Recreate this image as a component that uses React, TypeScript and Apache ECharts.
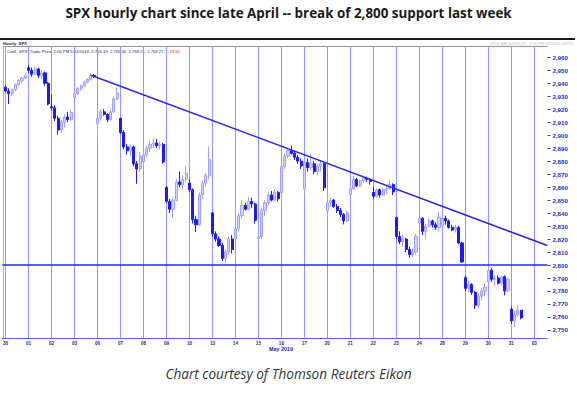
import React, { useEffect, useRef } from 'react';
import * as echarts from 'echarts';

type Bar = [number, number, number, number]; // open, high, low, close

const titleText = 'SPX hourly chart since late April -- break of 2,800 support last week';
const captionText = 'Chart courtesy of Thomson Reuters Eikon';
const headerLeft = 'Hourly .SPX';
const headerRight = '10:00 AM 4/30/2019 - 2:50 PM 6/3/2019 (NYC)';
const legendText = 'Cndl, .SPX, Trade Price, 1:00 PM 5/31/2019, 2,765.19, 2,765.30, 2,758.21, 2,759.27,';
const legendChange = '-29.55';
const monthLabel = 'May 2019';

const dayLabels = ['30', '01', '02', '03', '06', '07', '08', '09', '10', '13', '14', '15', '16', '17', '20', '21', '22', '23', '24', '28', '29', '30', '31', '03'];

const apr30: Bar[] = [[2937, 2938, 2933, 2934], [2934, 2936, 2924, 2932], [2932, 2936, 2930, 2935], [2935, 2940, 2934, 2939], [2939, 2943, 2938, 2942], [2942, 2945, 2940, 2944], [2944, 2948, 2943, 2945.8]];
const may01: Bar[] = [[2952, 2954, 2948, 2950], [2950, 2952, 2945, 2947], [2947, 2953, 2946, 2951], [2951, 2952, 2944, 2946], [2946, 2950, 2943, 2948], [2948, 2949, 2938, 2940], [2940, 2941, 2923, 2924]];
const may02: Bar[] = [[2922, 2931, 2919, 2921], [2921, 2923, 2911, 2913], [2913, 2915, 2900.5, 2904], [2904, 2912, 2902, 2910], [2910, 2916, 2906, 2914], [2914, 2918, 2910, 2912], [2912, 2920, 2911, 2917.5]];
const may03: Bar[] = [[2929, 2934, 2928, 2932], [2932, 2937, 2931, 2936], [2936, 2939, 2934, 2938], [2938, 2942, 2937, 2941], [2941, 2944, 2940, 2943], [2943, 2947.8, 2942, 2946], [2946, 2947, 2944, 2945.6]];
const may06: Bar[] = [[2909, 2914, 2898, 2913], [2913, 2920, 2911, 2918], [2918, 2920, 2915, 2916], [2916, 2917, 2910, 2912], [2912, 2920, 2911, 2918], [2918, 2930, 2917, 2928], [2928, 2937, 2927, 2932.5]];
const may07: Bar[] = [[2913, 2913.5, 2901, 2902], [2902, 2904, 2889, 2891], [2891, 2893, 2885, 2888], [2888, 2893, 2884, 2891], [2891, 2892, 2876, 2878], [2878, 2880, 2862.6, 2874], [2874, 2887, 2872, 2884]];
const may08: Bar[] = [[2879.6, 2888, 2876, 2885], [2885, 2892, 2883, 2890], [2890, 2896, 2887, 2893], [2893, 2898, 2890, 2894], [2894, 2897, 2890, 2892], [2892, 2895, 2889, 2893], [2893, 2894, 2878, 2879.4]];
const may09: Bar[] = [[2859.8, 2861, 2848, 2849], [2849, 2851, 2840, 2843], [2843, 2852, 2836.4, 2850], [2850, 2866, 2849, 2864], [2864, 2872, 2860, 2862], [2862, 2869, 2858, 2866], [2866, 2876, 2864, 2870.7]];
const may10: Bar[] = [[2863, 2866, 2856, 2858], [2858, 2859, 2832, 2835], [2835, 2838, 2825.4, 2831], [2831, 2856, 2830, 2854], [2854, 2865, 2851, 2863], [2863, 2871, 2860, 2869], [2869, 2891.3, 2866, 2881.4]];
const may13: Bar[] = [[2840.2, 2840.7, 2822, 2824], [2824, 2826, 2818, 2820], [2820, 2822, 2814, 2815], [2815, 2817, 2803, 2805], [2805, 2812, 2801.4, 2810], [2810, 2822, 2808, 2820], [2820, 2823, 2809, 2811.9]];
const may14: Bar[] = [[2820.1, 2830, 2819.5, 2828], [2828, 2840, 2826, 2838], [2838, 2850, 2836, 2846], [2846, 2848, 2842, 2843], [2843, 2852.5, 2842, 2849], [2849, 2852, 2844, 2847], [2847, 2848, 2832, 2834.4]];
const may15: Bar[] = [[2820.4, 2826, 2815, 2822], [2822, 2844, 2820, 2842], [2842, 2850, 2838, 2848], [2848, 2856, 2846, 2854], [2854, 2857, 2849, 2850], [2850, 2858.7, 2849, 2856], [2856, 2857, 2849, 2851]];
const may16: Bar[] = [[2855.8, 2878, 2855.3, 2876], [2876, 2886, 2874, 2884], [2884, 2890, 2882, 2888], [2888, 2892.2, 2885, 2886], [2886, 2888, 2881, 2883], [2883, 2885, 2878, 2880], [2880, 2882, 2874, 2876.3]];
const may17: Bar[] = [[2858.6, 2882, 2854.2, 2879], [2879, 2882, 2872, 2875], [2875, 2885.5, 2873, 2878], [2878, 2880, 2870, 2872], [2872, 2878, 2869, 2876], [2876, 2880, 2872, 2878], [2878, 2879, 2857, 2859.5]];
const may20: Bar[] = [[2841.9, 2853.9, 2838, 2848], [2848, 2852, 2845, 2850], [2850, 2851, 2844, 2845], [2845, 2847, 2840, 2842], [2842, 2844, 2837, 2839], [2839, 2840, 2831.3, 2834], [2834, 2842, 2833, 2840.2]];
const may21: Bar[] = [[2854, 2860, 2853.5, 2859], [2859, 2868.9, 2858, 2866], [2866, 2867, 2860, 2861], [2861, 2866, 2860, 2865], [2865, 2868, 2863, 2867], [2867, 2868, 2864, 2866], [2866, 2867, 2862, 2864.4]];
const may22: Bar[] = [[2856, 2860, 2851.1, 2853], [2853, 2859, 2852, 2858], [2858, 2859, 2852, 2854], [2854, 2860, 2853, 2858], [2858, 2861, 2855, 2859], [2859, 2865.5, 2858, 2862], [2862, 2863, 2854, 2856.3]];
const may23: Bar[] = [[2836.7, 2837.2, 2820, 2822], [2822, 2826, 2816, 2818], [2818, 2824, 2814, 2820], [2820, 2821, 2810, 2812], [2812, 2814, 2805.5, 2808], [2808, 2813, 2806, 2810], [2810, 2824, 2808, 2822.2]];
const may24: Bar[] = [[2832.4, 2838, 2830, 2836], [2836, 2837, 2823, 2826], [2826, 2832, 2820.2, 2830], [2830, 2836, 2829, 2834], [2834, 2835, 2829, 2831], [2831, 2833, 2827, 2829], [2829, 2841.4, 2826, 2837]];
const may28: Bar[] = [[2830, 2840.5, 2828, 2836], [2836, 2838, 2831, 2834], [2834, 2835, 2828, 2829], [2829, 2831, 2826, 2827], [2827, 2831, 2825, 2829], [2829, 2830, 2816, 2817], [2817, 2818, 2801.6, 2802.4]];
const may29: Bar[] = [[2790.3, 2792, 2780, 2782], [2782, 2788, 2779, 2785], [2785, 2786, 2777, 2779], [2779, 2780, 2766.1, 2769], [2769, 2778, 2767, 2776], [2776, 2782, 2773, 2780], [2780, 2786, 2776, 2783]];
const may30: Bar[] = [[2786.9, 2799, 2786, 2796], [2796, 2798, 2787, 2789], [2789, 2792, 2784, 2790], [2790, 2792, 2785, 2786], [2786, 2792, 2784, 2791], [2791, 2792, 2776.7, 2780], [2780, 2790, 2779, 2788.9]];
const may31: Bar[] = [[2766, 2768, 2755, 2757], [2757, 2765, 2752, 2762], [2762, 2769, 2760, 2765.2], [2765.19, 2765.3, 2758.21, 2759.27]];

const dayBars: Bar[][] = [apr30, may01, may02, may03, may06, may07, may08, may09, may10, may13, may14, may15, may16, may17, may20, may21, may22, may23, may24, may28, may29, may30, may31];

const yTickValues = [2750, 2760, 2770, 2780, 2790, 2800, 2810, 2820, 2830, 2840, 2850, 2860, 2870, 2880, 2890, 2900, 2910, 2920, 2930, 2940, 2950, 2960];
const yMin = 2743.8;
const yMax = 2968.7;
const supportLevel = 2800;
// trend line: [day index, bar index within day, price]
const trendStart = [3, 5, 2946.2];
const trendEnd = [23, 4, 2815];

const BARS_PER_DAY = 7;
const LAST_DAY_SLOTS = 5;

// Build categories: one padding slot, then 7 hourly slots per trading day
const categories: string[] = ['pad'];
const dayStartLabel: Record<string, string> = {};
dayLabels.forEach((lab, di) => {
  const n = di < dayBars.length ? BARS_PER_DAY : LAST_DAY_SLOTS;
  for (let b = 0; b < n; b++) {
    const key = `${di}-${b}`;
    categories.push(key);
    if (b === 0) dayStartLabel[key] = lab;
  }
});
const catOf = (d: number, b: number) => `${d}-${b}`;

const candleData: any[] = ['-'];
dayBars.forEach((bars) => {
  for (let b = 0; b < BARS_PER_DAY; b++) {
    const bar = bars[b];
    if (bar) candleData.push([bar[0], bar[3], bar[2], bar[1]]);
    else candleData.push('-');
  }
});

const isDayStart = (index: number) => index >= 1 && (index - 1) % BARS_PER_DAY === 0;

const fmt = (v: number) => v.toLocaleString('en-US');

export default function App() {
  const ref = useRef<HTMLDivElement>(null);
  useEffect(() => {
    const chart = echarts.init(ref.current!, null, { renderer: 'svg' });
    const option: any = {
      animation: false,
      backgroundColor: '#ffffff',
      grid: { left: 2, right: 29.6, top: 46, bottom: 56, containLabel: false },
      xAxis: {
        type: 'category',
        data: categories,
        boundaryGap: false,
        axisLine: { show: true, lineStyle: { color: '#5a5aff', width: 1 } },
        axisTick: { show: false },
        axisLabel: {
          show: true,
          interval: (index: number) => isDayStart(index),
          formatter: (value: string) => dayStartLabel[value] || '',
          color: '#1f1f9a',
          fontSize: 4.6,
          fontWeight: 'bold',
          fontFamily: 'Liberation Sans',
          margin: 3,
        },
        splitLine: {
          show: true,
          interval: (index: number) => isDayStart(index),
          lineStyle: { color: '#9494ff', width: 1 },
        },
      },
      yAxis: {
        type: 'value',
        position: 'right',
        min: yMin,
        max: yMax,
        scale: true,
        axisLine: { show: false },
        axisTick: { show: true, length: 3, inside: false, customValues: yTickValues, lineStyle: { color: '#3535d0', width: 1 } },
        axisLabel: {
          show: true,
          customValues: yTickValues,
          formatter: (v: number) => fmt(v),
          color: '#2a2ad0',
          fontSize: 6.2,
          fontWeight: 'bold',
          fontFamily: 'Liberation Sans',
          margin: 5,
        },
        splitLine: { show: false },
      },
      graphic: [
        { type: 'text', left: 'center', top: 6, style: { text: titleText, fontSize: 13.4, fontWeight: 'bold', fontFamily: 'Open Sans', fill: '#1a1a1a' } },
        { type: 'text', left: 'center', top: 366, style: { text: captionText, fontSize: 13.6, fontStyle: 'italic', fontFamily: 'Open Sans', fill: '#333333' } },
        { type: 'line', shape: { x1: 0, y1: 39, x2: 575, y2: 39 }, style: { stroke: '#1a1a1a', lineWidth: 2 } },
        { type: 'text', x: 3, y: 43, style: { text: headerLeft, fontSize: 4.2, fontWeight: 'bold', fontFamily: 'Liberation Sans', fill: '#222222', verticalAlign: 'middle' } },
        { type: 'text', x: 573, y: 43, style: { text: headerRight, fontSize: 4, fontFamily: 'Liberation Sans', fill: '#b8b8b8', align: 'right', verticalAlign: 'middle' } },
        { type: 'line', shape: { x1: 3, y1: 46.5, x2: 547.5, y2: 46.5 }, style: { stroke: '#8e8eaa', lineWidth: 1 } },
        { type: 'line', shape: { x1: 3.5, y1: 46.5, x2: 3.5, y2: 338 }, style: { stroke: '#aaaacc', lineWidth: 1 } },
        {
          type: 'text', x: 7, y: 51, style: {
            text: `{a|${legendText}} {r|${legendChange}}`, verticalAlign: 'middle',
            rich: {
              a: { fontSize: 4.2, fontFamily: 'Liberation Sans', fill: '#1a1a80', color: '#1a1a80' },
              r: { fontSize: 4.2, fontFamily: 'Liberation Sans', fill: '#e02020', color: '#e02020' },
            },
          },
        },
        { type: 'text', x: 269, y: 349, style: { text: monthLabel, fontSize: 5.4, fontWeight: 'bold', fontFamily: 'Liberation Sans', fill: '#1a1ab0', verticalAlign: 'middle' } },
      ],
      series: [
        {
          type: 'candlestick',
          data: candleData,
          barWidth: 2.6,
          itemStyle: {
            color: '#d4d4ff',
            color0: '#1c1cf0',
            borderColor: '#a0a0ff',
            borderColor0: '#1c1cf0',
            borderWidth: 1,
          },
          markLine: {
            silent: true,
            symbol: ['none', 'none'],
            label: { show: false },
            data: [
              { yAxis: supportLevel, lineStyle: { color: '#2828e8', width: 1.5, type: 'solid' } },
              [
                { coord: [catOf(trendStart[0], trendStart[1]), trendStart[2]], lineStyle: { color: '#2828e8', width: 1.5, type: 'solid' } },
                { coord: [catOf(trendEnd[0], trendEnd[1]), trendEnd[2]] },
              ],
            ],
          },
        },
      ],
    };
    chart.setOption(option);
    return () => chart.dispose();
  }, []);
  return <div ref={ref} style={{ position: 'fixed', left: 0, top: 0, width: 577, height: 394, background: '#fff' }} />;
}
